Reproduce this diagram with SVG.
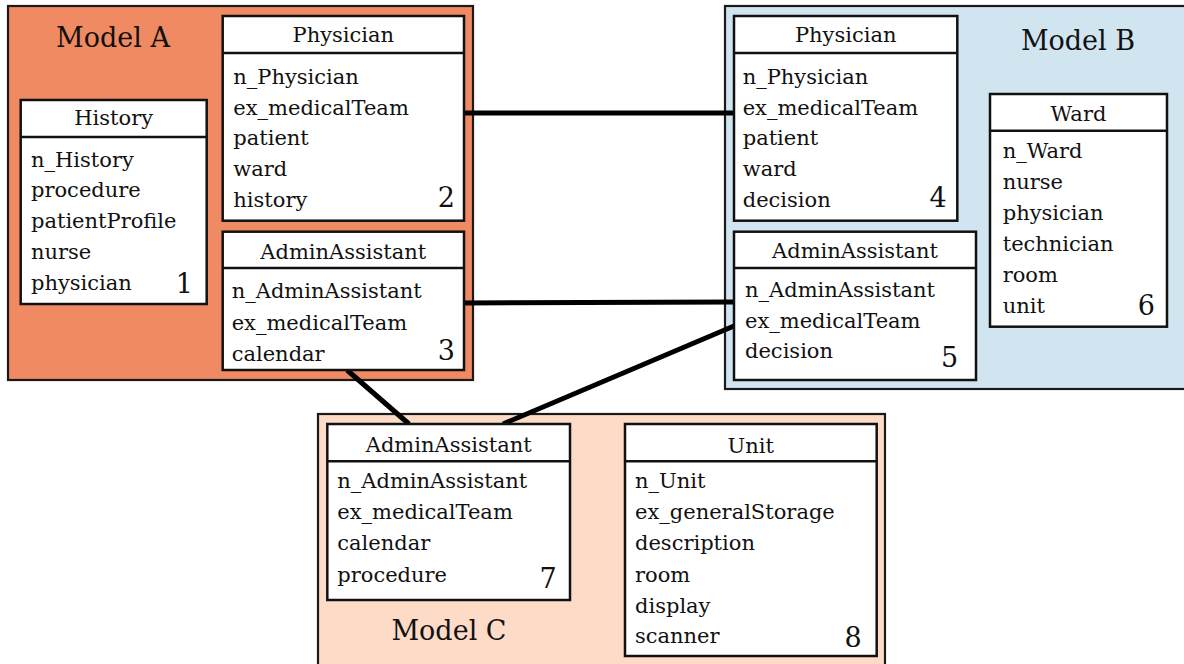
<svg xmlns="http://www.w3.org/2000/svg" width="1184" height="664" viewBox="0 0 1184 664">
<style>
  .box { fill: #ffffff; stroke: #111111; stroke-width: 2.5; }
  .div { stroke: #111111; stroke-width: 2.5; }
  .t { font-family: "DejaVu Serif", "Liberation Serif", serif; font-size: 21px; fill: #111111; }
  .title { text-anchor: middle; }
  .num { font-family: "DejaVu Serif", "Liberation Serif", serif; font-size: 27px; fill: #111111; text-anchor: end; }
  .model { font-family: "DejaVu Serif", "Liberation Serif", serif; font-size: 27px; fill: #111111; text-anchor: middle; }
  .conn { stroke: #000000; stroke-width: 5; stroke-linecap: butt; fill: none; }
  .cont { stroke: #1a1a1a; stroke-width: 2.2; }
</style>

<!-- Containers -->
<g id="modelA">
  <rect class="cont" x="8" y="6" width="465" height="374" fill="#EF8A62"/>
  <text class="model" x="113" y="47">Model A</text>
</g>
<g id="modelB">
  <rect class="cont" x="725" y="6" width="475" height="383" fill="#D1E5F0"/>
  <text class="model" x="1078" y="50">Model B</text>
</g>
<g id="modelC">
  <rect class="cont" x="318" y="414" width="567" height="262" fill="#FDDBC7"/>
  <text class="model" x="449" y="640">Model C</text>
</g>

<!-- Connectors -->
<g id="connectors">
  <line class="conn" x1="464" y1="113" x2="734" y2="113"/>
  <line class="conn" x1="464" y1="303" x2="734" y2="302"/>
  <line class="conn" x1="347" y1="370" x2="409" y2="424"/>
  <line class="conn" x1="734" y1="326" x2="503" y2="424"/>
</g>

<!-- Node 1: History -->
<g id="history">
  <rect class="box" x="20.7" y="100" width="186" height="204"/>
  <line class="div" x1="20.7" y1="137" x2="206.7" y2="137"/>
  <text class="t title" x="113.7" y="125">History</text>
  <text class="t" x="31" y="166.7">n_History</text>
  <text class="t" x="31" y="197.4">procedure</text>
  <text class="t" x="31" y="228.1">patientProfile</text>
  <text class="t" x="31" y="258.8">nurse</text>
  <text class="t" x="31" y="289.5">physician</text>
  <text class="num" x="193" y="293">1</text>
</g>

<!-- Node 2: Physician (A) -->
<g id="physicianA">
  <rect class="box" x="222.7" y="16" width="241.3" height="204.7"/>
  <line class="div" x1="222.7" y1="53" x2="464" y2="53"/>
  <text class="t title" x="343.3" y="42">Physician</text>
  <text class="t" x="233.3" y="84">n_Physician</text>
  <text class="t" x="233.3" y="114.7">ex_medicalTeam</text>
  <text class="t" x="233.3" y="145.4">patient</text>
  <text class="t" x="233.3" y="176">ward</text>
  <text class="t" x="233.3" y="206.7">history</text>
  <text class="num" x="455" y="206.7">2</text>
</g>

<!-- Node 3: AdminAssistant (A) -->
<g id="adminA">
  <rect class="box" x="222.7" y="231.7" width="241.3" height="138.3"/>
  <line class="div" x1="222.7" y1="268" x2="464" y2="268"/>
  <text class="t title" x="343.3" y="258.7">AdminAssistant</text>
  <text class="t" x="231.7" y="298.3">n_AdminAssistant</text>
  <text class="t" x="231.7" y="330">ex_medicalTeam</text>
  <text class="t" x="231.7" y="360.7">calendar</text>
  <text class="num" x="455" y="360">3</text>
</g>

<!-- Node 4: Physician (B) -->
<g id="physicianB">
  <rect class="box" x="734" y="16" width="223.3" height="204.7"/>
  <line class="div" x1="734" y1="53" x2="957.3" y2="53"/>
  <text class="t title" x="845.7" y="42">Physician</text>
  <text class="t" x="742.7" y="84">n_Physician</text>
  <text class="t" x="742.7" y="114.7">ex_medicalTeam</text>
  <text class="t" x="742.7" y="145.4">patient</text>
  <text class="t" x="742.7" y="176">ward</text>
  <text class="t" x="742.7" y="206.7">decision</text>
  <text class="num" x="946.7" y="206.7">4</text>
</g>

<!-- Node 5: AdminAssistant (B) -->
<g id="adminB">
  <rect class="box" x="734" y="231.7" width="242" height="148.3"/>
  <line class="div" x1="734" y1="268" x2="976" y2="268"/>
  <text class="t title" x="855" y="258.3">AdminAssistant</text>
  <text class="t" x="745" y="296.7">n_AdminAssistant</text>
  <text class="t" x="745" y="328.3">ex_medicalTeam</text>
  <text class="t" x="745" y="358.3">decision</text>
  <text class="num" x="958.3" y="366.7">5</text>
</g>

<!-- Node 6: Ward -->
<g id="ward">
  <rect class="box" x="990" y="94" width="177" height="232.7"/>
  <line class="div" x1="990" y1="130.7" x2="1167" y2="130.7"/>
  <text class="t title" x="1078.5" y="120.7">Ward</text>
  <text class="t" x="1002.7" y="157.7">n_Ward</text>
  <text class="t" x="1002.7" y="189.3">nurse</text>
  <text class="t" x="1002.7" y="220">physician</text>
  <text class="t" x="1002.7" y="250.7">technician</text>
  <text class="t" x="1002.7" y="281.7">room</text>
  <text class="t" x="1002.7" y="313.3">unit</text>
  <text class="num" x="1155" y="315">6</text>
</g>

<!-- Node 7: AdminAssistant (C) -->
<g id="adminC">
  <rect class="box" x="327.3" y="424" width="242.7" height="176"/>
  <line class="div" x1="327.3" y1="461.3" x2="570" y2="461.3"/>
  <text class="t title" x="448.7" y="451.7">AdminAssistant</text>
  <text class="t" x="337.3" y="488.3">n_AdminAssistant</text>
  <text class="t" x="337.3" y="519.3">ex_medicalTeam</text>
  <text class="t" x="337.3" y="550">calendar</text>
  <text class="t" x="337.3" y="581.7">procedure</text>
  <text class="num" x="556.7" y="588.3">7</text>
</g>

<!-- Node 8: Unit -->
<g id="unit">
  <rect class="box" x="625" y="424" width="251.7" height="232"/>
  <line class="div" x1="625" y1="461.3" x2="876.7" y2="461.3"/>
  <text class="t title" x="750.8" y="453.3">Unit</text>
  <text class="t" x="635" y="488.3">n_Unit</text>
  <text class="t" x="635" y="519.3">ex_generalStorage</text>
  <text class="t" x="635" y="550">description</text>
  <text class="t" x="635" y="581.7">room</text>
  <text class="t" x="635" y="613">display</text>
  <text class="t" x="635" y="643">scanner</text>
  <text class="num" x="861.7" y="646.7">8</text>
</g>
</svg>
